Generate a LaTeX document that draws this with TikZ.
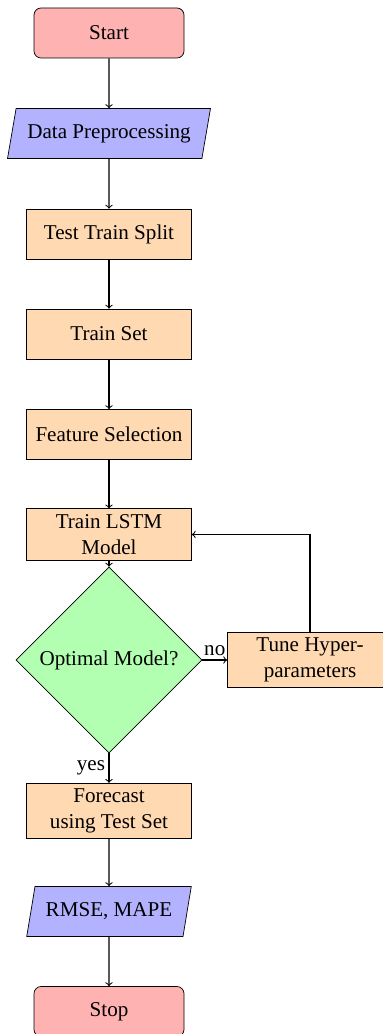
\documentclass[tikz,border=0pt]{standalone}
\usepackage{fontspec}
\setmainfont{Liberation Serif}
\usetikzlibrary{shapes.geometric,arrows}
\begin{document}
\begin{tikzpicture}[
  font=\fontsize{12}{14.5}\selectfont,
  startstop/.style={rectangle, rounded corners, minimum width=3cm, minimum height=1cm, align=center, draw=black, fill=red!30},
  io/.style={trapezium, trapezium left angle=75, trapezium right angle=105, trapezium stretches=true, minimum height=1cm, align=center, draw=black, fill=blue!30},
  process/.style={rectangle, minimum width=3.3cm, minimum height=1cm, align=center, draw=black, fill=orange!30},
  decision/.style={diamond, aspect=1, minimum width=3.72cm, minimum height=3.72cm, inner sep=1pt, align=center, draw=black, fill=green!30},
  arrow/.style={semithick,->}
]
\useasboundingbox (0,0) rectangle (7.64,-20.68);
\node[startstop] (start) at (2.18,-0.66) {Start};
\node[io, minimum width=4.06cm] (pre) at (2.18,-2.67) {Data Preprocessing};
\node[process] (split) at (2.18,-4.68) {Test Train Split};
\node[process] (train) at (2.18,-6.68) {Train Set};
\node[process] (feat) at (2.18,-8.69) {Feature Selection};
\node[process] (lstm) at (2.18,-10.69) {Train LSTM\\Model};
\node[decision] (opt) at (2.18,-13.2) {Optimal Model?};
\node[process] (tune) at (6.2,-13.2) {Tune Hyper-\\parameters};
\node[process] (fore) at (2.18,-16.22) {Forecast\\using Test Set};
\node[io, minimum width=3.3cm] (err) at (2.18,-18.23) {RMSE, MAPE};
\node[startstop] (stop) at (2.18,-20.23) {Stop};
\draw[arrow] (start) -- (pre);
\draw[arrow] (pre) -- (split);
\draw[arrow] (split) -- (train);
\draw[arrow] (train) -- (feat);
\draw[arrow] (feat) -- (lstm);
\draw[arrow] (lstm) -- (opt);
\draw[arrow] (opt) -- node[above, inner sep=2pt] (no) {no} (tune);
\draw[arrow] (tune.north) |- (lstm.east);
\draw[arrow] (opt) -- node[left, inner sep=2pt] (yes) {yes} (fore);
\draw[arrow] (fore) -- (err);
\draw[arrow] (err) -- (stop);
\end{tikzpicture}
\end{document}
